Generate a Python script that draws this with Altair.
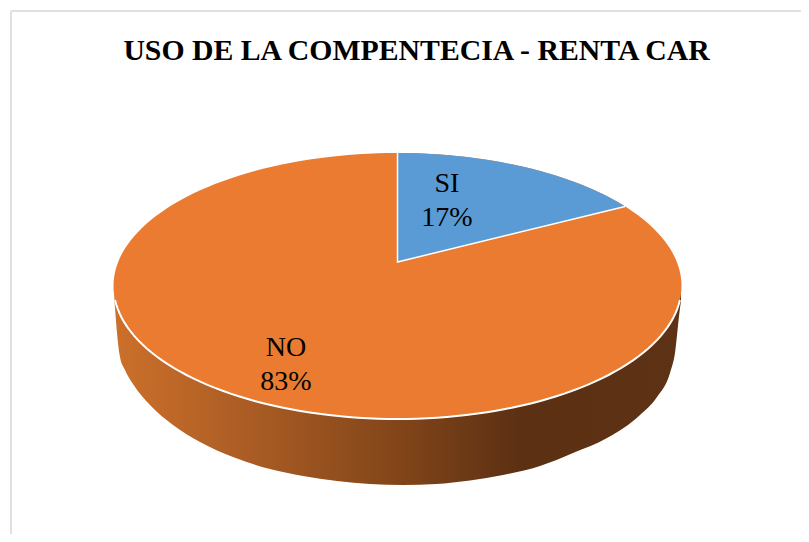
import math
import altair as alt
import pandas as pd

# Values
categories = ["SI", "NO"]
shares = [17, 83]
title_text = "USO DE LA COMPENTECIA - RENTA CAR"

# Outline of the pie's underside
edge_x = [114.5, 115, 120, 125, 133, 150, 173, 200, 233, 270, 303, 337, 370, 403, 436, 470, 503, 540, 573, 607, 640, 657, 670, 675, 680, 681]
edge_y = [301, 308, 357, 370, 384, 405, 425, 442, 457, 469, 476, 481, 484, 485, 484, 480.5, 475, 466, 453, 438, 415, 397, 373, 353, 308, 301]

# Pie face as drawn in perspective
CX, CY, RX, RY = 397.5, 286, 284, 133
APEX_Y = 262
FORESHORTEN = 0.87

PAGE_W, PAGE_H = 793, 526
X = alt.Scale(domain=[8, 8 + PAGE_W], range=[0, PAGE_W])
Y = alt.Scale(domain=[8, 8 + PAGE_H], range=[0, PAGE_H])
xe = alt.X("x:Q", scale=X, axis=None)
ye = alt.Y("y:Q", scale=Y, axis=None)

# Face of the whole pie
angles = [math.radians(a) for a in range(-90, 91, 2)]
face = pd.DataFrame(
    [{"x": CX + RX * math.sin(t), "y": CY - RY * math.cos(t), "y2": CY + RY * math.cos(t)} for t in angles]
)

# SI slice
rim_t = math.radians(shares[0] * 3.6 * FORESHORTEN)
rim_x = CX + RX * math.sin(rim_t)
rim_y = CY - RY * math.cos(rim_t)
steps = 40
wedge_rows = []
for i in range(steps + 1):
    t = rim_t * i / steps
    x = CX + RX * math.sin(t)
    wedge_rows.append({"x": x, "y": CY - RY * math.cos(t),
                       "y2": APEX_Y + (rim_y - APEX_Y) * (x - CX) / (rim_x - CX)})
wedge = pd.DataFrame(wedge_rows)

# Side wall
side = pd.DataFrame({"x": edge_x, "y": [CY] * len(edge_x), "y2": edge_y})

# White lines
rim_rows = []
for a in range(-84, 85, 2):
    t = math.radians(a)
    rim_rows.append({"x": CX + RX * math.sin(t), "y": CY + RY * math.cos(t)})
rim = pd.DataFrame(rim_rows)
edges = pd.DataFrame({"x": [CX, CX, rim_x], "y": [CY - RY, APEX_Y, rim_y], "o": [0, 1, 2]})

labels = pd.DataFrame({
    "x": [447, 286],
    "y": [184, 348],
    "t": [f"{c}\n{s}%" for c, s in zip(categories, shares)],
})

gradient = alt.Gradient(
    gradient="linear", x1=0, x2=1, y1=0, y2=0,
    stops=[
        alt.GradientStop(color="#CC702B", offset=0),
        alt.GradientStop(color="#AA5C24", offset=0.24),
        alt.GradientStop(color="#824519", offset=0.5),
        alt.GradientStop(color="#5B3013", offset=0.72),
        alt.GradientStop(color="#5E3214", offset=1),
    ],
)

frame = alt.Chart(pd.DataFrame({"a": [0]}))
frame_left = frame.mark_rule(color="#E0E0E0", strokeWidth=2).encode(
    x=alt.value(3), y=alt.value(3), y2=alt.value(PAGE_H))
frame_top = frame.mark_rule(color="#E0E0E0", strokeWidth=2).encode(
    y=alt.value(3), x=alt.value(3), x2=alt.value(PAGE_W))

side_l = alt.Chart(side).mark_area(color=gradient, interpolate="monotone").encode(x=xe, y=ye, y2="y2:Q")
face_l = alt.Chart(face).mark_area(color="#EA7B30").encode(x=xe, y=ye, y2="y2:Q")
rim_l = alt.Chart(rim).mark_line(color="white", strokeWidth=2).encode(x=xe, y=ye, order="x:Q")
wedge_l = alt.Chart(wedge).mark_area(color="#5B9BD5").encode(x=xe, y=ye, y2="y2:Q")
edges_l = alt.Chart(edges).mark_line(color="white", strokeWidth=1.5).encode(x=xe, y=ye, order="o:Q")
text_l = alt.Chart(labels).mark_text(
    font="Liberation Serif", fontSize=28, color="black", lineBreak="\n", lineHeight=34,
    baseline="middle", align="center",
).encode(x=xe, y=ye, text="t:N")

chart = alt.layer(frame_left, frame_top, side_l, face_l, rim_l, wedge_l, edges_l, text_l).properties(
    width=PAGE_W,
    height=PAGE_H,
    padding=0,
    autosize=alt.AutoSizeParams(type="none"),
    title=alt.TitleParams(
        title_text, font="Liberation Serif", fontSize=29.75, fontWeight="bold", color="black",
        anchor="middle", dx=12, dy=82, offset=0, baseline="alphabetic",
    ),
).configure_view(stroke=None)

chart.save("out.html", embed_options={"renderer": "svg", "actions": False})
